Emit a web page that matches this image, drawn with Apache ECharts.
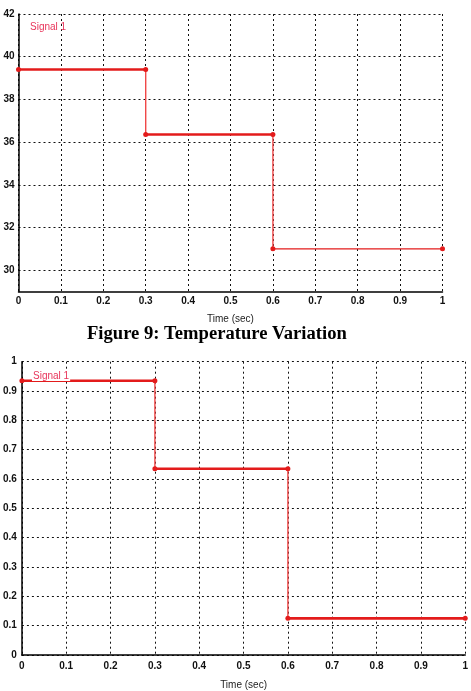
<!DOCTYPE html>
<html>
<head>
<meta charset="utf-8">
<script src="https://cdn.jsdelivr.net/npm/echarts@6/dist/echarts.min.js"></script>
<style>
  html, body { margin: 0; padding: 0; background: #ffffff; }
  #view { width: 471px; height: 691px; }
</style>
</head>
<body>
<div id="view"></div>
<script>
// step times (sec) and the level held in each step
const timeSteps = [0, 0.3, 0.6, 1];
const tempLevels = [39.4, 36.35, 31.0];
const signalLevels = [0.935, 0.635, 0.125];

const xTicks = [0, 0.1, 0.2, 0.3, 0.4, 0.5, 0.6, 0.7, 0.8, 0.9, 1];
const tempTicks = [30, 32, 34, 36, 38, 40, 42];
const signalTicks = [0, 0.1, 0.2, 0.3, 0.4, 0.5, 0.6, 0.7, 0.8, 0.9, 1];

const caption = "Figure 9: Temperature Variation";
const xName = "Time (sec)";
const legendName = "Signal 1";

const red = "#e31b1b";
const labelFont = "'Liberation Sans Narrow', 'Liberation Sans', sans-serif";

// build the step series: thick horizontal runs, thin vertical drops
function stepSeries(gridIndex, levels, hWidths) {
  let list = [];
  levels.forEach((v, i) => {
    list.push({
      type: "line",
      xAxisIndex: gridIndex,
      yAxisIndex: gridIndex,
      data: [[timeSteps[i], v], [timeSteps[i + 1], v]],
      symbol: "circle",
      symbolSize: 5,
      itemStyle: { color: red },
      lineStyle: { color: red, width: hWidths[i] },
      animation: false,
      z: 3,
    });
    if (i < levels.length - 1) {
      list.push({
        type: "line",
        xAxisIndex: gridIndex,
        yAxisIndex: gridIndex,
        data: [[timeSteps[i + 1], v], [timeSteps[i + 1], levels[i + 1]]],
        symbol: "none",
        lineStyle: { color: "#f04848", width: 1.4 },
        animation: false,
        z: 2,
      });
    }
  });
  return list;
}

function xAxisOpt(gridIndex, margin, nameGap) {
  return {
    type: "value",
    gridIndex: gridIndex,
    min: 0,
    max: 1,
    interval: 0.1,
    name: xName,
    nameLocation: "middle",
    nameGap: nameGap,
    nameTextStyle: { color: "#222", fontSize: 10, fontFamily: labelFont },
    axisLine: { show: true, onZero: false, lineStyle: { color: "#000", width: 1.5 } },
    axisTick: { show: false },
    axisLabel: {
      margin: margin,
      color: "#111",
      fontSize: 10,
      fontWeight: "bold",
      fontFamily: labelFont,
      formatter: (val) => String(Math.round(val * 10) / 10),
    },
    splitLine: { show: true, lineStyle: { color: "#111", type: [2, 3], width: 1 } },
  };
}

let myChart = echarts.init(document.getElementById("view"), null, { renderer: "canvas" });

let option = {
  backgroundColor: "#ffffff",
  grid: [
    { left: 18.5, top: 14, width: 424, height: 277.5 },
    { left: 20, top: 361.7, width: 445.3, height: 298.6 },
  ],
  xAxis: [xAxisOpt(0, 5, 23), xAxisOpt(1, 6, 25)],
  yAxis: [
    {
      type: "value",
      gridIndex: 0,
      min: 29,
      max: 42,
      interval: 1,
      axisLine: { show: true, lineStyle: { color: "#000", width: 1.5 } },
      axisTick: { show: false },
      axisLabel: {
        margin: 4,
        color: "#111",
        fontSize: 10,
        fontWeight: "bold",
        fontFamily: labelFont,
        formatter: (val) => (tempTicks.indexOf(val) >= 0 ? String(val) : ""),
      },
      splitLine: {
        show: true,
        lineStyle: { color: ["rgba(0,0,0,0)", "#111"], type: [2, 3], width: 1 },
      },
    },
    {
      type: "value",
      gridIndex: 1,
      min: 0,
      max: 1,
      interval: 0.1,
      axisLine: { show: true, lineStyle: { color: "#000", width: 1.5 } },
      axisTick: { show: false },
      axisLabel: {
        margin: 5,
        color: "#111",
        fontSize: 10,
        fontWeight: "bold",
        fontFamily: labelFont,
        formatter: (val) => String(Math.round(val * 10) / 10),
      },
      splitLine: { show: true, lineStyle: { color: "#111", type: [2, 3], width: 1 } },
    },
  ],
  graphic: [
    {
      type: "text",
      left: 30,
      top: 22,
      z: 10,
      style: { text: legendName, fill: "#e8345a", fontSize: 10, fontFamily: labelFont },
    },
    {
      type: "text",
      left: 32,
      top: 371,
      z: 10,
      style: {
        text: legendName,
        fill: "#e8345a",
        fontSize: 10,
        fontFamily: labelFont,
        backgroundColor: "#ffffff",
        padding: [0, 1],
      },
    },
    {
      type: "text",
      left: 87,
      top: 325,
      style: {
        text: caption,
        fill: "#000",
        fontSize: 18.6,
        fontWeight: "bold",
        fontFamily: "'Liberation Serif', 'Times New Roman', serif",
      },
    },
  ],
  series: [].concat(
    stepSeries(0, tempLevels, [2.5, 2.5, 1.3]),
    stepSeries(1, signalLevels, [2.5, 2.5, 2.8])
  ),
};
myChart.setOption(option);
</script>
</body>
</html>
